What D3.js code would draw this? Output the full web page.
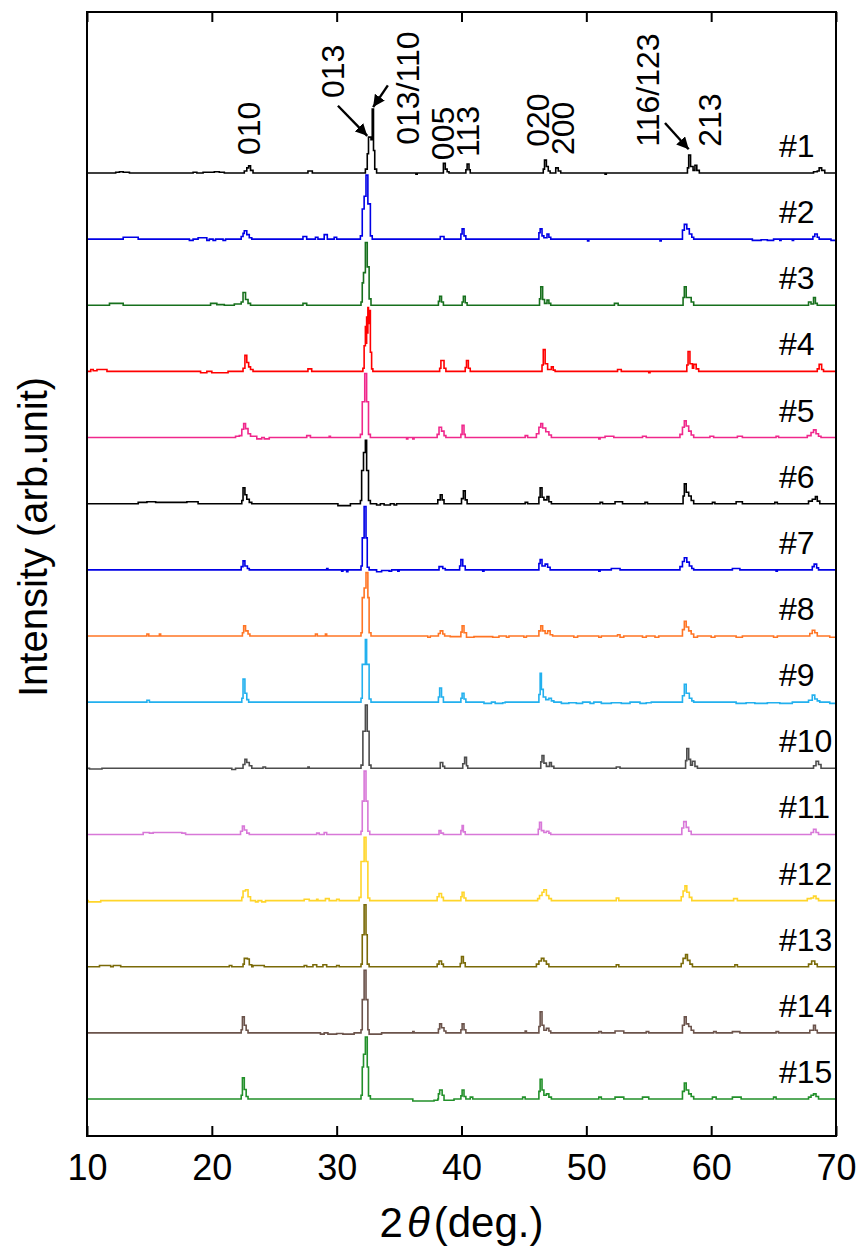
<!DOCTYPE html>
<html>
<head>
<meta charset="utf-8">
<script src="https://cdn.jsdelivr.net/npm/d3@7"></script>
<style>
  body { margin: 0; background: #fff; }
  svg { display: block; font-family: "Liberation Sans", Arial, sans-serif; }
</style>
</head>
<body>
<div class="container"></div>
<script>
// sample names, top to bottom
var sampleNames = ["#1","#2","#3","#4","#5","#6","#7","#8","#9","#10","#11","#12","#13","#14","#15"];

// XRD patterns: [2theta (deg), intensity (arb.)]
var xrd1 = [[10,0],[12.3,1],[12.6,2],[12.9,1],[13.4,0],[18.5,1],[18.8,0],[19.3,1],[20.2,2],[20.6,1],[21.0,0],[22.6,3],[22.8,8],[22.95,11],[23.1,4],[23.3,0],[27.7,3],[28.05,0],[32.3,6],[32.45,30],[32.55,56],[32.75,52],[32.85,100],[32.95,35],[33.05,6],[33.2,0],[36.35,-2],[36.45,0],[38.55,15],[38.7,6],[38.85,2],[39.0,0],[40.35,5],[40.45,14],[40.6,5],[40.7,0],[46.55,6],[46.65,20],[46.8,10],[46.95,3],[47.1,0],[47.55,8],[47.75,3],[47.95,0],[51.5,-2],[51.6,0],[58.1,8],[58.2,28],[58.35,10],[58.55,4],[58.7,12],[58.85,4],[59.05,0],[68.2,2],[68.5,3],[68.65,8],[68.85,4],[69.1,0],[70,0]];
var xrd2 = [[10,0],[12.9,3],[14.1,0],[18.2,-2],[18.5,0],[18.9,2],[19.6,-2],[19.8,0],[20.1,-2],[20.3,0],[20.9,-2],[21.1,0],[22.35,4],[22.5,9],[22.6,13],[22.8,7],[23.0,2],[23.2,0],[27.3,4],[27.6,0],[28.3,3],[28.5,0],[29.0,7],[29.25,0],[29.8,3],[30.0,0],[31.9,5],[32.05,47],[32.2,67],[32.35,100],[32.5,55],[32.7,5],[32.85,0],[38.3,4],[38.6,0],[39.95,8],[40.05,16],[40.2,5],[40.35,0],[46.2,10],[46.3,16],[46.45,5],[46.6,2],[46.85,8],[47.0,3],[47.15,0],[50.1,-3],[50.2,0],[55.9,-3],[56.0,0],[57.7,14],[57.85,23],[58.05,16],[58.25,8],[58.45,3],[58.6,0],[63.3,-2],[64.0,-1],[64.5,-2],[65.0,0],[65.5,-2],[65.6,0],[66.5,-2],[66.6,0],[68.15,4],[68.3,8],[68.5,3],[68.65,0],[69.6,-2],[70,0]];
var xrd3 = [[10,0],[11.8,3],[12.9,0],[19.9,3],[20.4,1],[21.0,0],[21.8,2],[22.35,5],[22.5,20],[22.7,9],[22.9,3],[23.1,0],[27.3,3],[27.6,0],[31.95,5],[32.05,35],[32.15,51],[32.3,98],[32.45,60],[32.6,10],[32.75,0],[38.15,6],[38.25,14],[38.4,5],[38.55,0],[40.05,5],[40.15,14],[40.3,4],[40.45,0],[46.25,10],[46.35,29],[46.5,9],[46.65,3],[46.85,8],[47.0,3],[47.15,0],[52.25,3],[52.55,0],[57.75,12],[57.85,29],[58.0,12],[58.2,12],[58.4,5],[58.6,0],[67.8,5],[68.0,2],[68.2,12],[68.35,3],[68.5,0],[70,0]];
var xrd4 = [[10,0],[10.3,3],[10.5,1],[10.8,3],[11.6,0],[19.1,-2],[19.6,0],[20.0,-2],[21.3,0],[22.5,5],[22.65,25],[22.8,14],[22.95,7],[23.1,3],[23.3,0],[27.7,4],[28.0,0],[32.1,5],[32.2,40],[32.3,70],[32.35,44],[32.4,85],[32.45,60],[32.5,100],[32.55,75],[32.6,95],[32.7,30],[32.8,4],[32.9,0],[38.25,5],[38.35,17],[38.6,5],[38.75,0],[40.3,6],[40.4,17],[40.55,5],[40.7,0],[46.45,10],[46.55,34],[46.7,12],[46.9,3],[47.2,7],[47.35,2],[47.5,0],[52.5,3],[52.8,0],[55.0,-2],[55.1,0],[58.05,10],[58.15,31],[58.3,12],[58.5,5],[58.6,11],[58.8,4],[59.0,0],[68.5,4],[68.65,11],[68.85,3],[69.0,0],[70,0]];
var xrd5 = [[10,0],[21.9,2],[22.2,3],[22.4,13],[22.55,22],[22.7,14],[22.9,6],[23.1,2],[23.6,-2],[24.0,0],[24.2,-2],[24.6,0],[27.6,3],[27.9,0],[29.4,2],[29.5,0],[31.9,5],[32.05,56],[32.25,100],[32.4,56],[32.55,5],[32.7,0],[35.6,-2],[35.7,0],[36.1,-2],[36.2,0],[38.05,5],[38.2,16],[38.4,10],[38.6,3],[38.75,0],[39.95,5],[40.05,19],[40.2,5],[40.3,0],[45.1,3],[45.3,0],[46.0,6],[46.2,16],[46.35,22],[46.5,15],[46.75,9],[47.0,4],[47.2,0],[51.0,-2],[51.1,0],[51.5,2],[52.2,0],[54.5,2],[54.8,0],[57.5,5],[57.7,16],[57.85,26],[58.0,18],[58.2,10],[58.4,4],[58.6,0],[59.9,2],[60.2,0],[62.1,2],[62.5,0],[65.2,2],[65.4,0],[67.7,3],[68.0,8],[68.2,12],[68.4,6],[68.6,2],[68.8,0],[70,0]];
var xrd6 = [[10,0],[14.1,2],[14.8,3],[15.5,2],[18.0,3],[18.9,0],[22.4,5],[22.5,25],[22.65,14],[22.8,7],[23.0,2],[23.2,0],[30.1,-3],[31.1,0],[31.9,5],[32.0,52],[32.15,80],[32.3,99],[32.4,52],[32.55,5],[32.7,0],[33.2,-2],[33.5,0],[33.8,-2],[34.3,0],[34.6,-2],[34.8,0],[38.1,6],[38.3,14],[38.45,6],[38.6,0],[40.0,8],[40.15,20],[40.3,6],[40.45,0],[45.1,2],[45.3,0],[46.2,10],[46.3,25],[46.45,10],[46.6,6],[46.85,11],[47.0,3],[47.2,0],[51.1,2],[51.3,0],[52.3,3],[52.9,0],[54.7,2],[54.9,0],[57.75,12],[57.85,31],[58.0,18],[58.2,12],[58.4,5],[58.6,0],[60.1,2],[60.3,0],[62.0,3],[62.5,0],[65.1,2],[65.3,0],[67.8,4],[68.1,7],[68.35,11],[68.5,4],[68.7,0],[70,0]];
var xrd7 = [[10,0],[22.35,5],[22.5,14],[22.65,6],[22.85,2],[23.0,0],[29.2,2],[29.3,0],[30.4,-2],[30.5,0],[30.8,-3],[30.9,0],[31.95,6],[32.05,50],[32.2,99],[32.35,50],[32.45,4],[32.6,0],[33.2,-3],[33.6,-1],[34.2,-2],[34.4,0],[34.9,-2],[35.0,0],[38.2,5],[38.5,2],[38.7,0],[39.85,6],[39.95,16],[40.1,6],[40.3,0],[41.7,-2],[41.8,0],[46.2,10],[46.3,16],[46.45,6],[46.7,9],[46.9,4],[47.1,0],[51.0,-2],[51.1,0],[52.0,2],[52.7,0],[57.5,5],[57.7,13],[57.85,19],[58.05,12],[58.25,6],[58.45,2],[58.6,0],[61.7,2],[62.3,0],[65.2,-2],[65.3,0],[68.1,5],[68.25,9],[68.45,3],[68.6,0],[70,0]];
var xrd8 = [[10,0],[14.8,3],[14.95,0],[15.8,3],[15.9,0],[22.45,5],[22.55,16],[22.7,8],[22.9,3],[23.05,0],[28.3,3],[28.45,0],[29.1,3],[29.2,0],[31.95,5],[32.05,60],[32.2,75],[32.35,99],[32.5,60],[32.6,5],[32.75,0],[37.3,-2],[37.5,0],[38.15,4],[38.3,8],[38.5,3],[38.65,0],[39.1,-1],[39.95,6],[40.05,16],[40.2,5],[40.4,-2],[41.0,-1],[42.5,-2],[43.0,0],[43.6,-2],[43.8,0],[45.0,-2],[45.2,0],[46.2,8],[46.35,16],[46.5,8],[46.7,4],[46.9,8],[47.1,2],[47.3,0],[49.0,-2],[49.3,0],[51.0,-2],[51.2,0],[52.5,2],[52.7,-2],[53.0,0],[54.5,-2],[54.8,0],[55.5,-2],[55.8,0],[57.7,10],[57.85,23],[58.0,14],[58.2,8],[58.4,3],[58.6,-2],[58.9,0],[60.0,-2],[60.3,0],[62.0,-2],[62.5,0],[65.0,-2],[65.3,0],[67.9,4],[68.1,9],[68.3,5],[68.5,0],[69.5,-2],[70,0]];
var xrd9 = [[10,0],[14.8,3],[15.0,0],[22.4,6],[22.5,36],[22.65,14],[22.8,4],[22.95,0],[31.95,6],[32.05,59],[32.3,98],[32.4,59],[32.6,5],[32.75,0],[38.15,8],[38.25,22],[38.4,8],[38.55,0],[39.95,6],[40.05,14],[40.2,5],[40.35,0],[41.8,-2],[42.4,0],[42.7,-2],[43.3,-1],[43.5,0],[46.2,12],[46.3,45],[46.4,20],[46.55,8],[46.75,4],[47.0,6],[47.2,2],[47.4,0],[48.0,-2],[48.6,-1],[49.2,-2],[49.7,0],[50.3,-2],[50.6,0],[51.2,-2],[52.0,-1],[52.8,-2],[53.5,0],[54.3,-2],[54.8,-1],[55.2,0],[57.7,10],[57.85,28],[58.0,14],[58.25,6],[58.45,2],[58.6,0],[62.0,-2],[62.8,-1],[63.5,-2],[64.5,-1],[65.5,-2],[66.5,0],[67.8,3],[68.1,11],[68.3,5],[68.5,2],[68.7,0],[69.5,-2],[70,0]];
var xrd10 = [[10,0],[10.2,-1],[11.2,0],[21.6,-2],[21.9,0],[22.5,6],[22.65,14],[22.8,9],[23.0,4],[23.2,0],[24.1,2],[24.3,0],[27.7,2],[27.8,0],[31.95,5],[32.1,58],[32.3,99],[32.45,58],[32.6,5],[32.75,0],[38.3,9],[38.5,3],[38.65,0],[40.1,7],[40.25,17],[40.4,4],[40.5,0],[46.35,10],[46.45,20],[46.6,8],[46.8,3],[47.05,9],[47.2,3],[47.4,0],[52.4,2],[52.7,0],[57.95,12],[58.05,31],[58.2,14],[58.35,5],[58.5,11],[58.7,3],[58.9,0],[68.2,4],[68.4,11],[68.6,6],[68.8,0],[70,0]];
var xrd11 = [[10,0],[14.5,3],[15.0,2],[15.3,3],[17.6,2],[17.9,0],[22.3,5],[22.45,13],[22.6,7],[22.8,2],[23.0,0],[28.4,2],[28.6,0],[29.0,3],[29.2,0],[31.95,5],[32.05,52],[32.2,99],[32.35,52],[32.5,5],[32.65,0],[38.2,6],[38.35,2],[38.55,0],[39.95,6],[40.05,14],[40.15,4],[40.3,0],[46.15,8],[46.25,19],[46.4,6],[46.6,3],[46.8,5],[47.0,2],[47.15,0],[57.65,10],[57.8,20],[58.0,11],[58.2,5],[58.4,0],[68.0,3],[68.2,8],[68.4,3],[68.6,0],[70,0]];
var xrd12 = [[10,0],[10.1,-2],[11.1,0],[22.4,5],[22.5,15],[22.7,17],[22.9,6],[23.1,0],[23.5,-2],[23.7,0],[24.0,-2],[24.3,0],[27.4,2],[27.8,0],[28.4,2],[28.5,0],[29.1,3],[29.4,0],[30.0,2],[30.2,0],[31.8,5],[31.95,61],[32.2,99],[32.35,61],[32.5,4],[32.65,0],[38.05,6],[38.2,11],[38.4,5],[38.55,0],[39.95,6],[40.05,13],[40.2,4],[40.35,0],[46.1,3],[46.25,8],[46.45,13],[46.6,17],[46.8,8],[47.0,3],[47.2,0],[52.4,4],[52.6,0],[57.6,6],[57.75,15],[57.9,23],[58.05,13],[58.25,5],[58.45,0],[61.8,3],[62.1,0],[67.7,3],[68.0,4],[68.2,7],[68.4,3],[68.6,0],[70,0]];
var xrd13 = [[10,0],[11.0,2],[11.9,0],[12.1,2],[12.7,0],[21.4,2],[21.6,0],[22.5,4],[22.6,13],[22.85,12],[23.0,3],[23.2,0],[23.3,2],[24.2,0],[27.4,2],[27.6,0],[28.1,3],[28.4,0],[28.9,3],[29.2,0],[30.0,2],[30.2,0],[31.95,4],[32.05,50],[32.2,97],[32.35,50],[32.45,4],[32.6,0],[38.05,4],[38.2,9],[38.4,4],[38.55,0],[39.9,5],[40.0,16],[40.15,6],[40.3,0],[46.0,4],[46.2,9],[46.4,13],[46.6,9],[46.8,4],[47.0,0],[52.4,3],[52.6,0],[57.6,5],[57.75,13],[57.95,19],[58.1,10],[58.3,4],[58.5,0],[61.9,3],[62.1,0],[67.8,4],[68.05,9],[68.3,4],[68.5,0],[70,0]];
var xrd14 = [[10,0],[22.35,5],[22.45,25],[22.6,12],[22.75,4],[22.9,0],[28.7,-2],[29.0,0],[29.3,-2],[30.0,-1],[30.5,-2],[31.4,0],[31.95,5],[32.05,52],[32.2,98],[32.35,52],[32.5,5],[32.6,-2],[33.6,0],[36.1,2],[36.2,0],[38.15,6],[38.25,14],[38.4,8],[38.6,3],[38.75,0],[39.95,5],[40.05,14],[40.2,5],[40.35,0],[45.1,3],[45.2,0],[46.2,10],[46.3,33],[46.45,12],[46.6,4],[46.8,7],[47.0,3],[47.15,0],[51.0,2],[51.2,0],[52.3,3],[53.0,0],[54.8,2],[55.0,0],[57.7,12],[57.85,25],[58.0,14],[58.2,10],[58.4,4],[58.6,0],[60.2,2],[60.4,0],[61.7,2],[62.3,0],[65.2,2],[65.4,0],[67.9,4],[68.2,12],[68.35,4],[68.5,0],[70,0]];
var xrd15 = [[10,0],[22.35,6],[22.45,33],[22.6,15],[22.75,4],[22.9,0],[31.95,6],[32.05,50],[32.15,70],[32.3,97],[32.45,50],[32.55,5],[32.7,0],[36.1,-3],[37.8,-2],[38.1,0],[38.15,8],[38.25,14],[38.45,6],[38.6,-2],[39.4,0],[39.95,5],[40.05,14],[40.2,4],[40.35,0],[40.7,3],[40.9,0],[44.9,3],[45.1,0],[46.2,12],[46.3,31],[46.45,14],[46.6,6],[46.8,8],[47.0,3],[47.2,0],[51.0,3],[51.2,0],[52.3,3],[53.0,0],[54.5,3],[55.0,0],[57.7,12],[57.85,25],[58.0,14],[58.2,8],[58.4,4],[58.6,0],[60.1,3],[60.4,0],[61.7,3],[62.4,0],[65.0,3],[65.2,0],[67.8,3],[68.0,6],[68.2,8],[68.4,4],[68.6,0],[70,0]];

var patterns = [xrd1,xrd2,xrd3,xrd4,xrd5,xrd6,xrd7,xrd8,xrd9,xrd10,xrd11,xrd12,xrd13,xrd14,xrd15];

// reflection labels above #1: text, 2theta, intensity level where the text starts
var peakLabels = ["010","013","013/110","005","113","020","200","116/123","213"];
var peakLabelAt = [22.9, 29.7, 35.7, 38.45, 40.5, 46.05, 48.05, 54.9, 59.85];
var peakLabelLevel = [28, 117, 44, 20, 25, 41, 28, 41, 41];

// arrows above #1: [2theta, intensity] start -> end
var arrowFrom = [[30.1,105],[34.1,137],[56.3,78]];
var arrowTo = [[32.45,58],[32.92,103],[58.2,37]];

var xTicks = [10,20,30,40,50,60,70];

var lineColors = ["#000000","#0000e6","#17701d","#ff0000","#f0288c","#000000","#0000e6","#ff7524","#22b0ee","#4d4d4d","#d878d8","#ffd52a","#7a6a08","#6b534b","#22902a"];

(function(){
  var W = 864, H = 1251;
  var m = {left: 87, right: 28, top: 12, bottom: 115};
  var pw = W - m.left - m.right, ph = H - m.top - m.bottom;
  var step = 103.4;  // vertical offset between patterns

  var svg = d3.select(".container").append("svg")
      .attr("width", W).attr("height", H);

  var x = d3.scaleLinear().domain([10,70]).range([m.left, m.left + pw]);
  var y = d3.scaleLinear().domain([-57.8, 14*step + 251.6]).range([m.top + ph, m.top]);

  function base(i) { return (patterns.length - 1 - i) * step; }

  svg.append("clipPath").attr("id","clip")
    .append("rect").attr("x", m.left).attr("y", m.top).attr("width", pw).attr("height", ph);

  var line = d3.line().curve(d3.curveStepAfter);

  var g = svg.append("g").attr("clip-path","url(#clip)");
  patterns.forEach(function(p, i) {
    g.append("path")
      .attr("d", line.x(function(d){ return x(d[0]); })
                     .y(function(d){ return y(d[1] + base(i)); })(p))
      .attr("fill","none")
      .attr("stroke", lineColors[i])
      .attr("stroke-width", 1.6)
      .attr("stroke-linejoin","miter");
  });

  // sample labels
  svg.selectAll(".sname").data(sampleNames).enter().append("text")
    .attr("x", 779)
    .attr("y", function(d,i){ return y(base(i)) - 16; })
    .attr("font-size", 32)
    .text(function(d){ return d; });

  // reflection labels
  svg.selectAll(".plabel").data(peakLabels).enter().append("text")
    .attr("transform", function(d,i){
      return "translate(" + x(peakLabelAt[i]) + "," + y(base(0) + peakLabelLevel[i]) + ") rotate(-90)";
    })
    .attr("dy","0.36em")
    .attr("font-size", 32)
    .text(function(d){ return d; });

  // arrows
  svg.append("defs").append("marker")
    .attr("id","ah").attr("viewBox","0 0 10 10").attr("refX",10).attr("refY",5)
    .attr("markerWidth",5).attr("markerHeight",5).attr("markerUnits","strokeWidth")
    .attr("orient","auto")
    .append("path").attr("d","M0,0L10,5L0,10z").attr("fill","#000");

  arrowFrom.forEach(function(a, i) {
    svg.append("line")
      .attr("x1", x(a[0])).attr("y1", y(base(0) + a[1]))
      .attr("x2", x(arrowTo[i][0])).attr("y2", y(base(0) + arrowTo[i][1]))
      .attr("stroke","#000").attr("stroke-width",2.4)
      .attr("marker-end","url(#ah)");
  });

  // axes
  var xAxis = d3.axisBottom(x).tickValues(xTicks).tickSizeInner(-10).tickSizeOuter(0).tickPadding(18);
  var gx = svg.append("g").attr("transform","translate(0," + (m.top + ph) + ")").call(xAxis);
  gx.select(".domain").remove();
  gx.selectAll("line").attr("stroke","#000").attr("stroke-width",2);
  gx.selectAll("text").attr("font-size",36).attr("font-family","Liberation Sans, Arial, sans-serif").attr("fill","#000");

  var xTop = d3.axisTop(x).tickValues(xTicks).tickSizeInner(-10).tickSizeOuter(0).tickFormat("");
  var gt = svg.append("g").attr("transform","translate(0," + m.top + ")").call(xTop);
  gt.select(".domain").remove();
  gt.selectAll("line").attr("stroke","#000").attr("stroke-width",2);

  svg.append("rect")
    .attr("x", m.left).attr("y", m.top).attr("width", pw).attr("height", ph)
    .attr("fill","none").attr("stroke","#000").attr("stroke-width",2);

  // axis titles
  var xt = svg.append("text")
    .attr("x", m.left + pw/2).attr("y", 1237)
    .attr("text-anchor","middle").attr("font-size",42);
  xt.append("tspan").text("2");
  xt.append("tspan").attr("font-style","italic").attr("dx",4).text("\u03b8");
  xt.append("tspan").attr("dx",4).text("(deg.)");

  svg.append("text")
    .attr("transform","translate(47," + (m.top + 525) + ") rotate(-90)")
    .attr("text-anchor","middle").attr("font-size",40)
    .text("Intensity (arb.unit)");
})();
</script>
</body>
</html>
